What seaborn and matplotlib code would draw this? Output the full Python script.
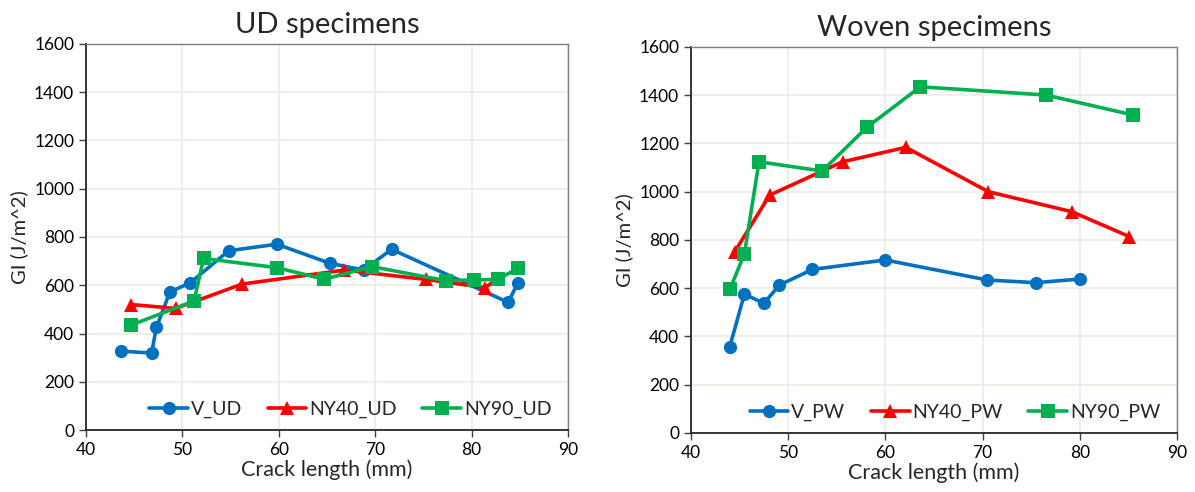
import matplotlib
matplotlib.use("Agg")
import matplotlib.pyplot as plt
import seaborn as sns
import pandas as pd

# ---- data ----
ud_v_x = [43.6, 46.8, 47.3, 48.7, 50.8, 54.8, 59.8, 65.3, 68.8, 71.7, 83.8, 84.8]
ud_v_y = [327, 319, 425, 572, 610, 743, 770, 691, 663, 749, 529, 610]
ud_ny40_x = [44.7, 49.3, 56.2, 66.8, 75.3, 81.4, 82.7]
ud_ny40_y = [520, 504, 605, 663, 624, 590, 627]
ud_ny90_x = [44.7, 51.2, 52.2, 59.8, 64.7, 69.7, 77.3, 80.3, 82.7, 84.8]
ud_ny90_y = [435, 535, 711, 673, 625, 677, 619, 622, 624, 670]

pw_v_x = [44.0, 45.5, 47.5, 49.1, 52.5, 60.0, 70.5, 75.5, 80.0]
pw_v_y = [358, 576, 537, 613, 678, 717, 634, 623, 638]
pw_ny40_x = [44.5, 48.1, 55.6, 62.1, 70.6, 79.2, 85.1]
pw_ny40_y = [751, 986, 1124, 1184, 1000, 917, 814]
pw_ny90_x = [44.0, 45.5, 47.0, 53.5, 58.1, 63.6, 76.5, 85.5]
pw_ny90_y = [595, 742, 1124, 1086, 1267, 1435, 1401, 1318]

ud_labels = ["V_UD", "NY40_UD", "NY90_UD"]
pw_labels = ["V_PW", "NY40_PW", "NY90_PW"]
titles = ["UD specimens", "Woven specimens"]
x_ticks = [40, 50, 60, 70, 80, 90]
y_ticks = [0, 200, 400, 600, 800, 1000, 1200, 1400, 1600]

colors = ["#0070C0", "#FF0000", "#00B050"]
markers = ["o", "^", "s"]

sns.set_theme(style="white")
plt.rcParams["font.family"] = ["Lato", "DejaVu Sans"]

fig = plt.figure(figsize=(11.95, 4.92), dpi=100)
ax1 = fig.add_axes([0.072, 0.126, 0.4033, 0.7846])
ax2 = fig.add_axes([0.5782, 0.120, 0.4067, 0.7845])

panels = [
    (ax1, [(ud_v_x, ud_v_y), (ud_ny40_x, ud_ny40_y), (ud_ny90_x, ud_ny90_y)], ud_labels, titles[0]),
    (ax2, [(pw_v_x, pw_v_y), (pw_ny40_x, pw_ny40_y), (pw_ny90_x, pw_ny90_y)], pw_labels, titles[1]),
]

for ax, series, labels, title in panels:
    for (xs, ys), lab, c, m in zip(series, labels, colors, markers):
        df = pd.DataFrame({"x": xs, "y": ys})
        sns.lineplot(data=df, x="x", y="y", sort=False, ax=ax, color=c, marker=m,
                     markersize=10 if m != "o" else 9.5, markeredgewidth=0, linewidth=2.6,
                     label=lab, estimator=None)
    ax.set_xlim(40, 90)
    ax.set_ylim(0, 1600)
    ax.set_xticks(x_ticks)
    ax.set_yticks(y_ticks)
    ax.grid(True, color="#EDEBE2", linewidth=1.2)
    ax.set_axisbelow(True)
    for side in ["top", "right"]:
        ax.spines[side].set_color("#7F7F7F")
        ax.spines[side].set_linewidth(1.0)
    for side in ["left", "bottom"]:
        ax.spines[side].set_color("#262626")
        ax.spines[side].set_linewidth(1.3)
    ax.tick_params(axis="both", direction="out", length=5, width=1, color="#404040",
                   labelsize=12.5, labelcolor="#000000", left=True, bottom=True)
    ax.set_xlabel("Crack length (mm)", fontsize=15.5, labelpad=1)
    ax.set_ylabel("GI (J/m^2)", fontsize=14.5, labelpad=4)
    ax.set_title(title, fontsize=21, pad=8)
    ax.legend(loc="lower right", ncol=3, frameon=False, fontsize=14,
              handlelength=2.0, handletextpad=0.15, columnspacing=1.3,
              borderaxespad=0.2, bbox_to_anchor=(0.99, 0.0))

fig.savefig("out.png", dpi=100)
